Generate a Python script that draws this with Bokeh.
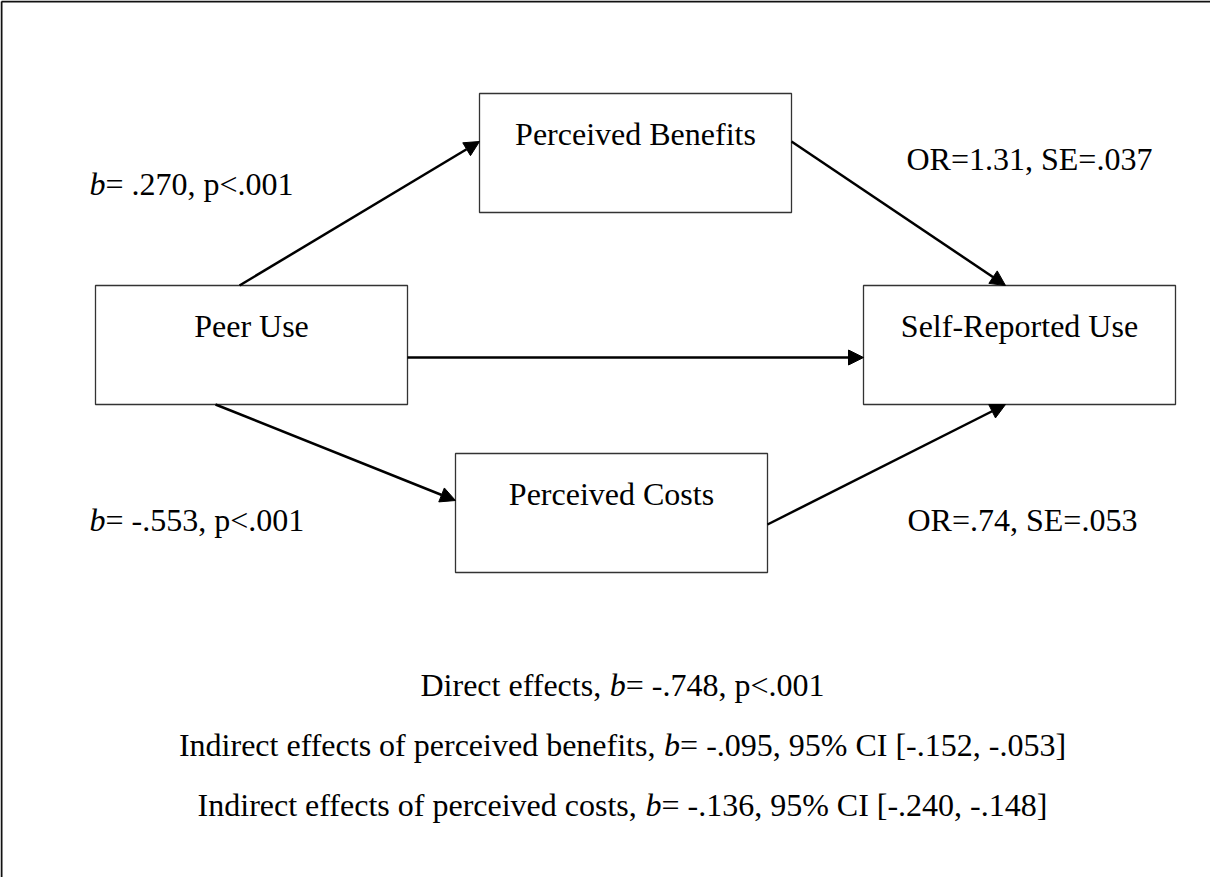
from bokeh.plotting import figure
from bokeh.models import Range1d, Arrow, NormalHead, ColumnDataSource
from bokeh.core.properties import value
from bokeh.embed import file_html
from bokeh.resources import INLINE

# ---------------- data ----------------
nodes = ["Peer Use", "Perceived Benefits", "Self-Reported Use", "Perceived Costs"]
path_a_b = [".270", "-.553"]          # Peer Use -> Benefits / Costs
path_a_p = ["<.001", "<.001"]
path_or = ["1.31", ".74"]             # Benefits / Costs -> Self-Reported Use
path_se = [".037", ".053"]
direct_b = "-.748"
direct_p = "<.001"
indirect_names = ["perceived benefits", "perceived costs"]
indirect_b = ["-.095", "-.136"]
indirect_lo = ["-.152", "-.240"]
indirect_hi = ["-.053", "-.148"]

# ---------------- layout (page pixel coordinates) ----------------
W, H = 1210, 877
FONT = value("Liberation Serif")
FS = 32
BOX_W, BOX_H = 312, 119
box_left = {"Peer Use": 103, "Perceived Benefits": 487, "Self-Reported Use": 871, "Perceived Costs": 463}
box_top = {"Peer Use": 293, "Perceived Benefits": 101, "Self-Reported Use": 293, "Perceived Costs": 461}

# Times / Liberation Serif advance widths (per 1000 em)
CW = {' ': 250, ',': 250, '.': 250, '-': 333, '=': 564, '<': 564, '%': 833, '[': 333, ']': 333,
      'D': 722, 'I': 333, 'C': 667, 'O': 722, 'R': 667, 'S': 556, 'E': 611, 'P': 556, 'B': 667, 'U': 722,
      'a': 444, 'b': 500, 'c': 444, 'd': 500, 'e': 444, 'f': 333, 'g': 500, 'h': 500, 'i': 278,
      'j': 278, 'k': 500, 'l': 278, 'm': 778, 'n': 500, 'o': 500, 'p': 500, 'q': 500, 'r': 333,
      's': 389, 't': 278, 'u': 500, 'v': 500, 'w': 722, 'x': 500, 'y': 500, 'z': 444}
for d in "0123456789":
    CW[d] = 500


def tw(s):
    return sum(CW.get(c, 500) for c in s) * FS / 1000.0


p = figure(width=W, height=H, output_backend="svg", toolbar_location=None,
           x_range=Range1d(8, 8 + W), y_range=Range1d(8 + H, 8),
           x_axis_type=None, y_axis_type=None, min_border=0)
p.outline_line_color = None
p.background_fill_color = "white"
p.border_fill_color = "white"

# outer frame (left and top edges visible)
p.segment(x0=[9, 9], y0=[9, 9], x1=[9, 8 + W], y1=[8 + H, 9], line_color="#111111", line_width=2)

# boxes
src_box = ColumnDataSource(dict(
    left=[box_left[n] for n in nodes],
    right=[box_left[n] + BOX_W for n in nodes],
    top=[box_top[n] for n in nodes],
    bottom=[box_top[n] + BOX_H for n in nodes],
    tx=[box_left[n] + BOX_W / 2 for n in nodes],
    ty=[box_top[n] + 40 for n in nodes],
    name=nodes,
))
p.quad(left="left", right="right", top="top", bottom="bottom", source=src_box,
       fill_color="white", line_color="#333333", line_width=1.3)
p.text(x="tx", y="ty", text="name", source=src_box, text_font=FONT, text_font_size=value(f"{FS}px"),
       text_align="center", text_baseline="alphabetic", text_color="black")

# arrows, derived from box geometry
pu, pb, sr, pc = nodes
ax0 = [box_left[pu] + 144, box_left[pb] + BOX_W, box_left[pu] + BOX_W, box_left[pu] + 120, box_left[pc] + BOX_W]
ay0 = [box_top[pu], box_top[pb] + 48, box_top[pu] + 72, box_top[pu] + BOX_H, box_top[pc] + 71]
ax1 = [box_left[pb], box_left[sr] + 142, box_left[sr], box_left[pc], box_left[sr] + 142]
ay1 = [box_top[pb] + 48, box_top[sr], box_top[pu] + 72, box_top[pc] + 47, box_top[sr] + BOX_H]
src_arr = ColumnDataSource(dict(x0=ax0, y0=ay0, x1=ax1, y1=ay1))
p.add_layout(Arrow(end=NormalHead(size=15, fill_color="black", line_color="black", line_width=1),
                   x_start="x0", y_start="y0", x_end="x1", y_end="y1", source=src_arr,
                   line_color="black", line_width=2.5))

# path labels with italic b
lab_x = [97, 97]
lab_y = [191, 527]
p.text(x=lab_x, y=lab_y, text=["b", "b"], text_font=FONT, text_font_style="italic",
       text_font_size=value(f"{FS}px"), text_baseline="alphabetic", text_color="black")
p.text(x=[x + tw("b") for x in lab_x], y=lab_y,
       text=[f"= {b}, p{pv}" for b, pv in zip(path_a_b, path_a_p)],
       text_font=FONT, text_font_size=value(f"{FS}px"), text_baseline="alphabetic", text_color="black")

p.text(x=[914, 915], y=[166, 527], text=[f"OR={o}, SE={s}" for o, s in zip(path_or, path_se)],
       text_font=FONT, text_font_size=value(f"{FS}px"), text_baseline="alphabetic", text_color="black")

# bottom summary lines
pre = ["Direct effects, "] + [f"Indirect effects of {n}, " for n in indirect_names]
post = [f"= {direct_b}, p{direct_p}"] + [f"= {b}, 95% CI [{lo}, {hi}]" for b, lo, hi in zip(indirect_b, indirect_lo, indirect_hi)]
cx = 630
line_y = [692, 752, 812]
starts = [cx - (tw(a) + tw("b") + tw(b)) / 2 for a, b in zip(pre, post)]
p.text(x=starts, y=line_y, text=pre, text_font=FONT, text_font_size=value(f"{FS}px"),
       text_baseline="alphabetic", text_color="black")
p.text(x=[s + tw(a) for s, a in zip(starts, pre)], y=line_y, text=["b"] * 3, text_font=FONT,
       text_font_style="italic", text_font_size=value(f"{FS}px"), text_baseline="alphabetic", text_color="black")
p.text(x=[s + tw(a) + tw("b") for s, a in zip(starts, pre)], y=line_y, text=post, text_font=FONT,
       text_font_size=value(f"{FS}px"), text_baseline="alphabetic", text_color="black")

open("out.html", "w").write(file_html(p, INLINE))
